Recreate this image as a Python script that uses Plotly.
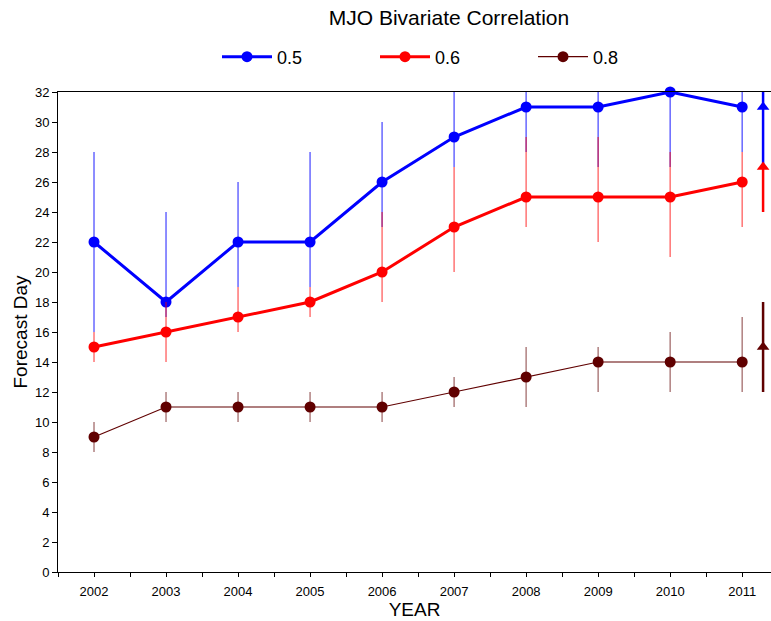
import plotly.graph_objects as go

years = [2002, 2003, 2004, 2005, 2006, 2007, 2008, 2009, 2010, 2011]

names = ["0.5", "0.6", "0.8"]
colors = ["#0000FF", "#FF0000", "#600000"]
err_colors = ["rgba(0,0,255,0.6)", "rgba(255,0,0,0.55)", "rgba(96,0,0,0.5)"]
line_widths = [3, 3, 1.2]

v05 = [22, 18, 22, 22, 26, 29, 31, 31, 32, 31]
lo05 = [16, 17, 19, 19, 23, 27, 28, 27, 27, 28]
hi05 = [28, 24, 26, 28, 30, 32, 32, 32, 32, 32]

v06 = [15, 16, 17, 18, 20, 23, 25, 25, 25, 26]
lo06 = [14, 14, 16, 17, 18, 20, 23, 22, 21, 23]
hi06 = [16, 18, 19, 19, 24, 27, 29, 29, 28, 28]

v08 = [9, 11, 11, 11, 11, 12, 13, 14, 14, 14]
lo08 = [8, 10, 10, 10, 10, 11, 11, 12, 12, 12]
hi08 = [10, 12, 12, 12, 12, 13, 15, 15, 16, 17]

# triangles at right edge
tri_x = 2011.29
tri_vals = [31, 27, 15]
tri_lo = [27, 24, 12]
tri_hi = [32, 27, 18]

series = [(v05, lo05, hi05), (v06, lo06, hi06), (v08, lo08, hi08)]

fig = go.Figure()
for i, (v, lo, hi) in enumerate(series):
    fig.add_trace(go.Scatter(
        x=years, y=v, name=names[i], mode="lines+markers",
        line=dict(color=colors[i], width=line_widths[i]),
        marker=dict(color=colors[i], size=11, symbol="circle"),
        error_y=dict(type="data", symmetric=False,
                     array=[h - a for h, a in zip(hi, v)],
                     arrayminus=[a - l for a, l in zip(v, lo)],
                     color=err_colors[i], thickness=1.5, width=0),
        cliponaxis=False,
    ))

for i in range(3):
    fig.add_trace(go.Scatter(
        x=[tri_x], y=[tri_vals[i]], mode="markers", showlegend=False,
        marker=dict(color=colors[i], size=11, symbol="triangle-up"),
        error_y=dict(type="data", symmetric=False,
                     array=[tri_hi[i] - tri_vals[i]],
                     arrayminus=[tri_vals[i] - tri_lo[i]],
                     color=colors[i], thickness=2.5, width=0),
        cliponaxis=False,
    ))

W, H = 771, 621

fig.update_layout(
    width=W, height=H,
    margin=dict(l=58, r=0, t=92, b=49, autoexpand=False),
    paper_bgcolor="white", plot_bgcolor="white",
    font=dict(family="Liberation Sans, Arial, sans-serif", color="black"),
    title=dict(text="MJO Bivariate Correlation", x=449 / W, xanchor="center",
               xref="container", yref="container",
               y=1 - 18 / H, yanchor="middle",
               font=dict(size=21, color="black")),
    legend=dict(orientation="h", xref="container", yref="container",
                x=217 / W, xanchor="left",
                y=1 - 57 / H, yanchor="middle",
                font=dict(size=18), entrywidth=93, entrywidthmode="pixels",
                itemwidth=50, bgcolor="rgba(0,0,0,0)"),
    showlegend=True,
)

fig.update_xaxes(
    range=[2001.5, 2011.4], automargin=False,
    tickvals=years, ticktext=[str(y) for y in years],
    ticks="outside", ticklen=4, tickcolor="black",
    minor=dict(tick0=2001.5, dtick=1, ticks="outside", ticklen=4, tickcolor="black"),
    showline=True, linecolor="black", linewidth=1, mirror=True,
    showgrid=False, zeroline=False,
    tickfont=dict(size=13), ticklabelstandoff=3,
    title=dict(text="YEAR", font=dict(size=19), standoff=3),
)
fig.update_yaxes(
    range=[0, 32], tick0=0, dtick=2, automargin=False,
    ticks="outside", ticklen=5, tickcolor="black",
    showline=True, linecolor="black", linewidth=1,
    showgrid=False, zeroline=False,
    tickfont=dict(size=13),
    title=dict(text="Forecast Day", font=dict(size=19), standoff=2),
)

fig.write_html(
    "out.html",
    config={"displayModeBar": False},
    post_script="document.body.style.margin='0';document.body.style.overflow='hidden';",
)
